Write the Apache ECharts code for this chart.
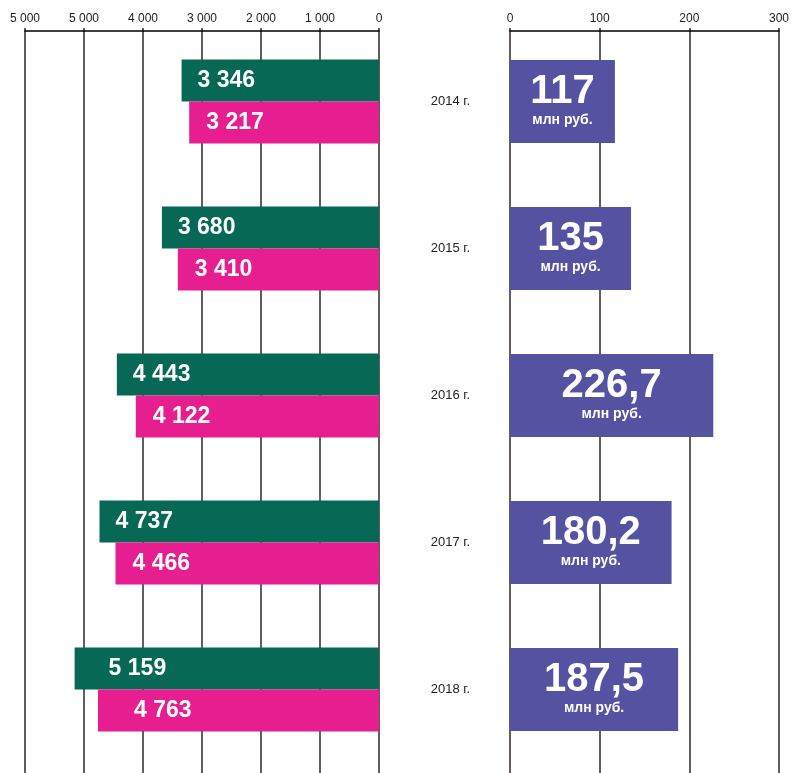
<!DOCTYPE html>
<html><head><meta charset="utf-8">
<script src="https://cdn.jsdelivr.net/npm/echarts@6/dist/echarts.min.js"></script>
<style>html,body{margin:0;padding:0;background:#fff}#c{width:792px;height:773px}</style>
</head><body><div id="c"></div>
<script>
const years = ['2014 г.', '2015 г.', '2016 г.', '2017 г.', '2018 г.'];
const greenVals = [3346, 3680, 4443, 4737, 5159];
const pinkVals = [3217, 3410, 4122, 4466, 4763];
const purpleVals = [117, 135, 226.7, 180.2, 187.5];
const leftTickLabels = ['0', '1 000', '2 000', '3 000', '4 000', '5 000', '5 000'];
const unitLabel = 'млн руб.';

const FONT = '"Liberation Sans", Arial, sans-serif';
const lineColor = '#2f2728';
const fmtThousands = v => String(v).replace(/\B(?=(\d{3})+(?!\d))/g, ' ');

const chart = echarts.init(document.getElementById('c'), null, {renderer: 'canvas'});
const barLabel = (dist) => ({
  show: true, position: 'insideLeft', distance: dist, color: '#fff',
  fontFamily: FONT, fontWeight: 'bold', fontSize: 23,
  formatter: p => fmtThousands(p.value)
});
const hiddenValueAxis = (gi, inverse, max, interval) => ({
  gridIndex: gi, type: 'value', inverse: inverse, min: 0, max: max, interval: interval, show: false
});
chart.setOption({
  animation: false,
  textStyle: {fontFamily: FONT},
  grid: [
    {left: 25, width: 354, top: 28, bottom: 0},
    {left: 510, width: 269, top: 28, bottom: 0},
    {left: 25, width: 354, top: 28, bottom: 10},
    {left: 510, width: 269, top: 28, bottom: 10}
  ],
  xAxis: [
    {gridIndex: 0, type: 'value', inverse: true, min: 0, max: 6000, interval: 1000, position: 'top', offset: -3,
     axisLine: {show: true, onZero: false, lineStyle: {color: '#000', width: 1.5}},
     axisTick: {show: false},
     axisLabel: {color: '#222', fontSize: 12, margin: 6, formatter: v => leftTickLabels[Math.round(v / 1000)]},
     splitLine: {show: true, lineStyle: {color: lineColor, width: 1.5}}},
    {gridIndex: 1, type: 'value', min: 0, max: 300, interval: 100, position: 'top', offset: -3,
     axisLine: {show: true, onZero: false, lineStyle: {color: '#000', width: 1.5}},
     axisTick: {show: false},
     axisLabel: {color: '#222', fontSize: 12, margin: 6},
     splitLine: {show: true, lineStyle: {color: lineColor, width: 1.5}}},
    hiddenValueAxis(2, true, 6000, 1000),
    hiddenValueAxis(3, false, 300, 100)
  ],
  yAxis: [
    {gridIndex: 0, type: 'value', min: 0, max: 1, show: false},
    {gridIndex: 1, type: 'value', min: 0, max: 1, show: false},
    {gridIndex: 2, type: 'category', data: years, inverse: true, position: 'right',
     axisLine: {show: false}, axisTick: {show: false}, axisLabel: {show: false}},
    {gridIndex: 3, type: 'category', data: years, inverse: true, position: 'left',
     axisLine: {show: false},
     axisTick: {show: false},
     axisLabel: {color: '#222', fontSize: 13, margin: 40, align: 'right'}}
  ],
  series: [
    {type: 'bar', xAxisIndex: 2, yAxisIndex: 2, barWidth: 42, barGap: '0%',
     itemStyle: {color: '#066855'}, label: barLabel(16),
     data: greenVals.map((v, i) => i === 4 ? {value: v, label: {distance: 34}} : v)},
    {type: 'bar', xAxisIndex: 2, yAxisIndex: 2, barWidth: 42, barGap: '0%',
     itemStyle: {color: '#e61e8f'}, label: barLabel(17),
     data: pinkVals.map((v, i) => i === 4 ? {value: v, label: {distance: 36}} : v)},
    {type: 'bar', xAxisIndex: 3, yAxisIndex: 3, barWidth: 83,
     itemStyle: {color: '#5652a2'},
     label: {show: true, position: 'inside', color: '#fff',
       formatter: p => '{a|' + String(p.value).replace('.', ',') + '}\n{b|' + unitLabel + '}',
       rich: {
         a: {fontFamily: FONT, fontWeight: 'bold', fontSize: 40, color: '#fff', lineHeight: 38},
         b: {fontFamily: FONT, fontWeight: 'bold', fontSize: 14, color: '#fff', lineHeight: 20}
       }},
     data: purpleVals}
  ]
});
</script></body></html>
